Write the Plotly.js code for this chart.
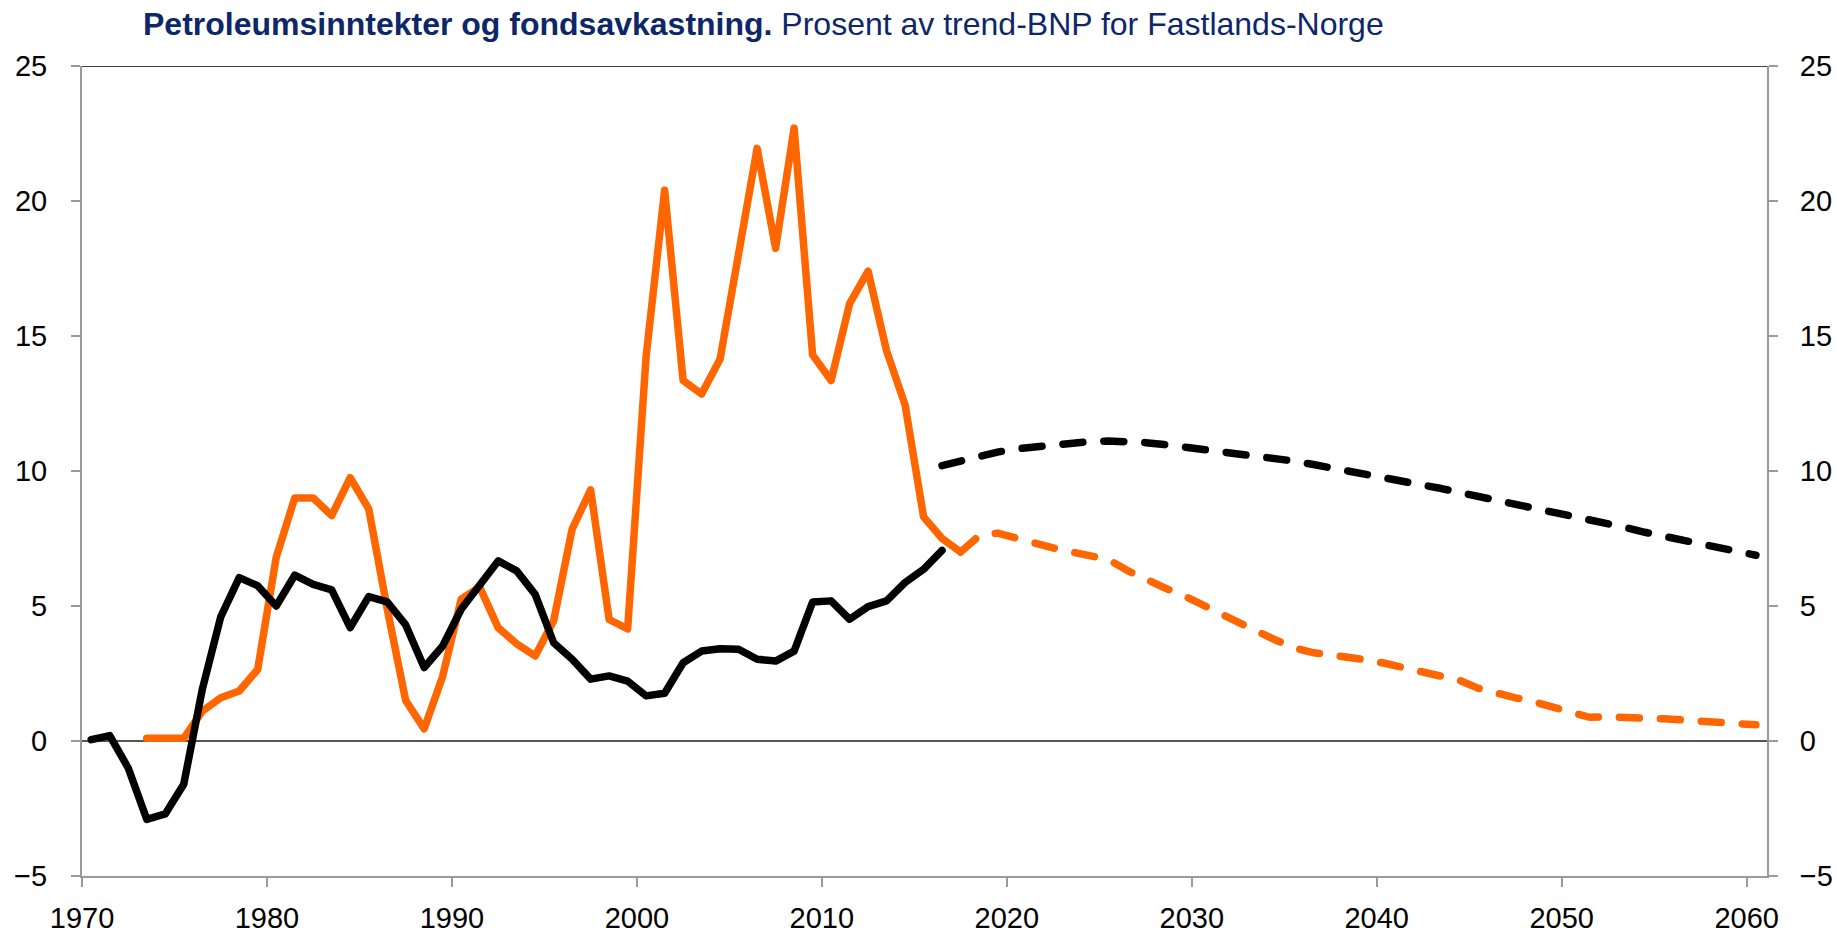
<!DOCTYPE html>
<html>
<head>
<meta charset="utf-8">
<script src="https://cdn.plot.ly/plotly-3.0.1.min.js"></script>
<style>
html,body{margin:0;padding:0;background:#fff;}
#chart{width:1837px;height:933px;}
path.js-line{stroke-linecap:round;stroke-linejoin:round;}
</style>
</head>
<body>
<div id="chart"></div>
<script>
// ---- Data (percent of trend GDP for mainland Norway) ----
const histYearsFund = [1970,1971,1972,1973,1974,1975,1976,1977,1978,1979,1980,1981,1982,1983,1984,1985,1986,1987,1988,1989,1990,1991,1992,1993,1994,1995,1996,1997,1998,1999,2000,2001,2002,2003,2004,2005,2006,2007,2008,2009,2010,2011,2012,2013,2014,2015,2016];
const histFund = [0.05,0.2,-1.0,-2.9,-2.7,-1.6,1.9,4.6,6.05,5.75,5.0,6.14,5.8,5.6,4.2,5.35,5.15,4.3,2.72,3.52,4.88,5.74,6.67,6.3,5.43,3.64,3.03,2.29,2.41,2.22,1.67,1.77,2.9,3.33,3.42,3.4,3.03,2.96,3.33,5.15,5.19,4.51,4.98,5.19,5.87,6.36,7.06];

const histYearsPetro = [1973,1974,1975,1976,1977,1978,1979,1980,1981,1982,1983,1984,1985,1986,1987,1988,1989,1990,1991,1992,1993,1994,1995,1996,1997,1998,1999,2000,2001,2002,2003,2004,2005,2006,2007,2008,2009,2010,2011,2012,2013,2014,2015,2016,2017];
const histPetro = [0.1,0.1,0.1,1.1,1.6,1.85,2.65,6.8,9.0,9.0,8.35,9.75,8.6,4.9,1.5,0.45,2.4,5.25,5.7,4.2,3.6,3.15,4.45,7.85,9.3,4.5,4.15,14.25,20.4,13.35,12.85,14.15,18.1,21.95,18.25,22.7,14.3,13.35,16.2,17.4,14.45,12.45,8.3,7.5,7.0];

const projYearsFund = [2016,2017,2018,2019,2020,2021,2022,2023,2024,2025,2026,2027,2028,2029,2030,2031,2032,2033,2034,2035,2036,2037,2038,2039,2040,2041,2042,2043,2044,2045,2046,2047,2048,2049,2050,2051,2052,2053,2054,2055,2056,2057,2058,2059,2060];
const projFund = [10.2,10.38,10.55,10.7,10.82,10.9,10.98,11.05,11.09,11.11,11.1,11.05,10.98,10.9,10.83,10.76,10.68,10.58,10.48,10.37,10.25,10.13,10.0,9.87,9.73,9.6,9.47,9.35,9.2,9.06,8.93,8.8,8.66,8.52,8.38,8.22,8.06,7.9,7.73,7.58,7.43,7.28,7.13,6.98,6.88];

const projYearsPetro = [2017,2018,2019,2020,2021,2022,2023,2024,2025,2026,2027,2028,2029,2030,2031,2032,2033,2034,2035,2036,2037,2038,2039,2040,2041,2042,2043,2044,2045,2046,2047,2048,2049,2050,2051,2052,2053,2054,2055,2056,2057,2058,2059,2060];
const projPetro = [7.0,7.6,7.7,7.5,7.3,7.15,7.0,6.87,6.72,6.32,5.97,5.68,5.4,5.05,4.71,4.38,4.07,3.75,3.45,3.28,3.2,3.1,3.0,2.87,2.72,2.57,2.43,2.24,1.95,1.74,1.6,1.45,1.27,1.05,0.88,0.89,0.88,0.86,0.82,0.78,0.74,0.7,0.66,0.6];

const xTickLabels = ['1970','1980','1990','2000','2010','2020','2030','2040','2050','2060'];
const yTicks = [-5,0,5,10,15,20,25];

const titleBold = 'Petroleumsinntekter og fondsavkastning.';
const titleRest = ' Prosent av trend-BNP for Fastlands-Norge';

// ---- Styles ----
const ORANGE = '#FF6600';
const BLACK = '#000000';
const AXIS_GREY = '#9a9a9a';
const LW = 7.5;
const DASH = '20px,21px';

const traces = [
  {x: histYearsPetro, y: histPetro, type: 'scatter', mode: 'lines', line: {color: ORANGE, width: LW}, hoverinfo: 'x+y'},
  {x: projYearsPetro, y: projPetro, type: 'scatter', mode: 'lines', line: {color: ORANGE, width: LW, dash: DASH}, hoverinfo: 'x+y'},
  {x: histYearsFund, y: histFund, type: 'scatter', mode: 'lines', line: {color: BLACK, width: LW}, hoverinfo: 'x+y'},
  {x: projYearsFund, y: projFund, type: 'scatter', mode: 'lines', line: {color: BLACK, width: LW, dash: DASH}, hoverinfo: 'x+y'}
];

const tickFont = {family: '"Liberation Sans", Arial, sans-serif', size: 29, color: '#000'};

const layout = {
  width: 1837, height: 933,
  paper_bgcolor: '#fff', plot_bgcolor: '#fff',
  showlegend: false,
  margin: {l: 82, r: 70, t: 66, b: 57},
  title: {
    text: '<b>' + titleBold + '</b>' + titleRest,
    font: {family: '"Liberation Sans", Arial, sans-serif', size: 32, color: '#0d2769'},
    xref: 'container', yref: 'container',
    x: 143/1837, xanchor: 'left',
    y: 1 - 24/933, yanchor: 'middle'
  },
  xaxis: {
    range: [1969.5, 2060.6],
    tickvals: xTickLabels.map(t => Number(t) - 0.5),
    ticktext: xTickLabels,
    showgrid: false, zeroline: false,
    showline: true, linecolor: AXIS_GREY, linewidth: 2,
    ticks: 'outside', ticklen: 9, tickwidth: 2, tickcolor: AXIS_GREY,
    ticklabelstandoff: 6,
    tickfont: tickFont
  },
  yaxis: {
    range: [-5, 25],
    tickvals: yTicks,
    showgrid: false,
    zeroline: true, zerolinecolor: '#555555', zerolinewidth: 2,
    showline: true, linecolor: AXIS_GREY, linewidth: 2,
    ticks: 'outside', ticklen: 9, tickwidth: 2, tickcolor: AXIS_GREY,
    ticklabelstandoff: 18,
    tickfont: tickFont
  },
  yaxis2: {
    range: [-5, 25],
    tickvals: yTicks,
    overlaying: 'y', side: 'right', anchor: 'x',
    showgrid: false, zeroline: false,
    showline: true, linecolor: AXIS_GREY, linewidth: 2,
    ticks: 'outside', ticklen: 9, tickwidth: 2, tickcolor: AXIS_GREY,
    ticklabelstandoff: 16,
    tickfont: tickFont
  },
  shapes: [
    {type: 'line', xref: 'paper', yref: 'y', x0: 0, x1: 1, y0: 25, y1: 25, line: {color: '#000', width: 1.5}}
  ]
};

// invisible trace so the right axis is bound to data
traces.push({x: [1970], y: [0], yaxis: 'y2', type: 'scatter', mode: 'markers', marker: {opacity: 0}, hoverinfo: 'skip'});

Plotly.newPlot('chart', traces, layout, {displayModeBar: false, staticPlot: true});
</script>
</body>
</html>
